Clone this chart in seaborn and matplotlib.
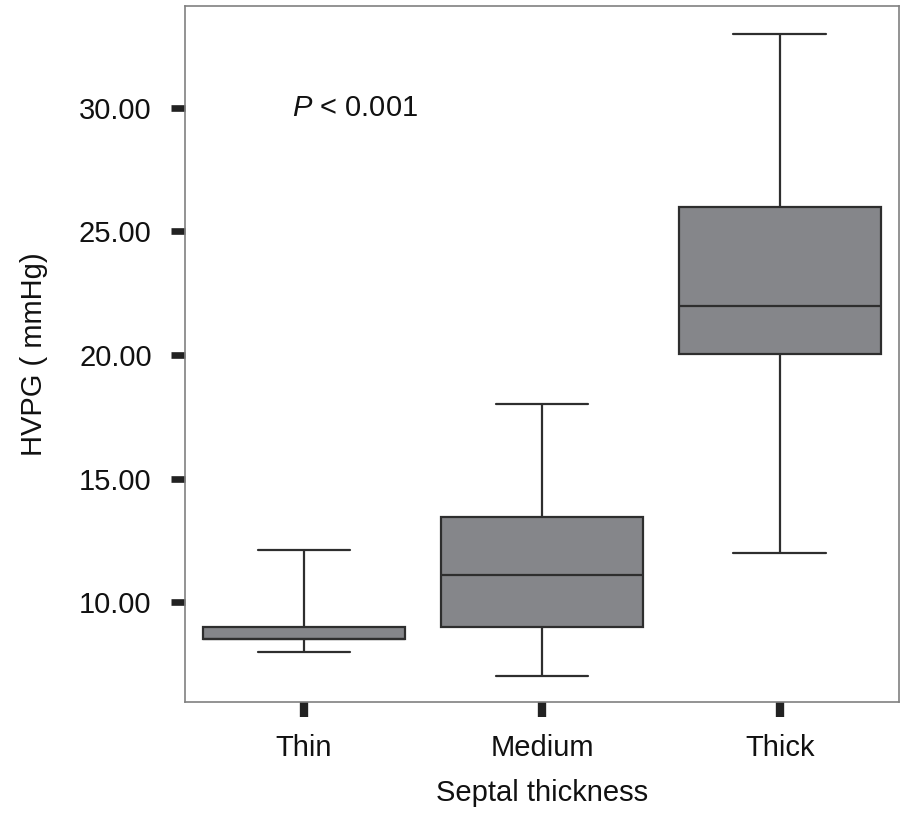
import numpy as np
import pandas as pd
import matplotlib
matplotlib.use("Agg")
import matplotlib.pyplot as plt
import seaborn as sns

# Five-number summaries (min, Q1, median, Q3, max)
categories = ["Thin", "Medium", "Thick"]
thin_values = [8.0, 8.5, 8.5, 9.0, 12.1]
medium_values = [7.0, 9.0, 11.1, 13.45, 18.0]
thick_values = [12.0, 20.05, 22.0, 26.0, 33.0]
y_ticks = [10, 15, 20, 25, 30]
y_tick_labels = ["10.00", "15.00", "20.00", "25.00", "30.00"]

df = pd.DataFrame({
    "group": np.repeat(categories, 5),
    "value": thin_values + medium_values + thick_values,
})

sns.set_style("white")
plt.rcParams["font.family"] = ["Liberation Sans", "DejaVu Sans"]
plt.rcParams["mathtext.fontset"] = "custom"
plt.rcParams["mathtext.it"] = "Liberation Sans:italic"
plt.rcParams["mathtext.rm"] = "Liberation Sans"
plt.rcParams["text.color"] = "#111111"
plt.rcParams["axes.labelcolor"] = "#111111"
plt.rcParams["xtick.labelcolor"] = "#111111"
plt.rcParams["ytick.labelcolor"] = "#111111"

fig = plt.figure(figsize=(9.07, 8.13), dpi=100)
ax = fig.add_axes([0.204, 0.1365, 0.787, 0.856])

sns.boxplot(
    data=df, x="group", y="value", order=categories, ax=ax,
    color="#85868a", saturation=1, width=0.85, whis=(0, 100),
    linewidth=1.6, linecolor="#2e2e2e", capwidths=0.39,
)

ax.set_xlim(-0.5, 2.5)
ax.set_ylim(5.96, 34.12)
ax.set_yticks(y_ticks)
ax.set_yticklabels(y_tick_labels)

for side in ["left", "right", "top", "bottom"]:
    ax.spines[side].set_visible(True)
    ax.spines[side].set_color("#808080")
    ax.spines[side].set_linewidth(1.2)

ax.tick_params(axis="y", direction="out", length=10, width=4.8, color="#222222",
               labelcolor="#111111", labelsize=21, pad=14, left=True)
ax.tick_params(axis="x", direction="out", length=11, width=6, color="#222222",
               labelcolor="#111111", labelsize=21, pad=12, bottom=True)

ax.set_xlabel("Septal thickness", fontsize=21, labelpad=12, color="#111111")
ax.set_ylabel("HVPG ( mmHg)", fontsize=21, labelpad=22, color="#111111")

ax.text(-0.05, 30, "$P$ < 0.001", fontsize=21, ha="left", va="center", color="#111111")

fig.savefig("out.png", dpi=100)
